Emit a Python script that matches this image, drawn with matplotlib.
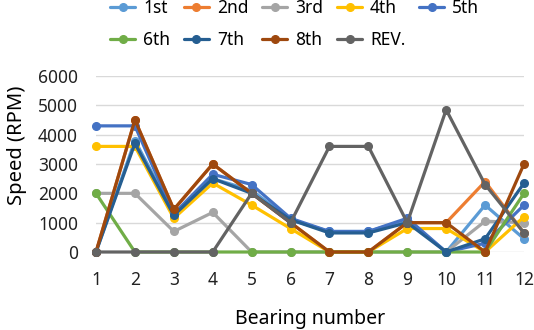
import numpy as np
import matplotlib
matplotlib.use("Agg")
import matplotlib.pyplot as plt

plt.rcParams['font.family'] = ['Noto Sans', 'DejaVu Sans']

bearings = list(range(1, 13))
labels = ["1st", "2nd", "3rd", "4th", "5th", "6th", "7th", "8th", "REV."]
colors = ["#5B9BD5", "#ED7D31", "#A5A5A5", "#FFC000", "#4472C4",
          "#70AD47", "#255E91", "#9E480E", "#636363"]

s1 = [0, 3800, 1300, 2500, 2100, 1100, 700, 700, 1100, 0, 1600, 450]
s2 = [0, 4500, 1450, 3000, 2000, 1000, 0, 0, 1000, 1000, 2400, 650]
s3 = [2000, 2000, 700, 1350, 0, 0, 0, 0, 0, 0, 1050, 1000]
s4 = [3600, 3600, 1150, 2350, 1600, 800, 0, 0, 800, 800, 0, 1200]
s5 = [4300, 4300, 1300, 2650, 2300, 1150, 700, 700, 1150, 0, 300, 1600]
s6 = [2000, 0, 0, 0, 0, 0, 0, 0, 0, 0, 0, 2000]
s7 = [0, 3700, 1250, 2500, 2000, 1100, 650, 650, 1000, 0, 450, 2350]
s8 = [0, 4500, 1450, 3000, 2000, 1000, 0, 0, 1000, 1000, 0, 3000]
rev = [0, 0, 0, 0, 2000, 1000, 3600, 3600, 1000, 4850, 2300, 650]
series = [s1, s2, s3, s4, s5, s6, s7, s8, rev]

fig = plt.figure(figsize=(5.34, 3.3), dpi=100)
ax = fig.add_axes([96/534, 1-252/330, 428/534, 176/330])

handles = []
for vals, lab, c in zip(series, labels, colors):
    h, = ax.plot(bearings, vals, color=c, lw=2.3, marker='o', ms=5.5,
                 label=lab, clip_on=False, solid_capstyle='round')
    handles.append(h)

ax.set_xlim(1, 12)
ax.set_ylim(0, 6000)
ax.set_yticks(np.arange(0, 6001, 1000))
ax.set_xticks(bearings)
ax.grid(axis='y', color='#D9D9D9', lw=1)
ax.set_axisbelow(True)
for sp in ax.spines.values():
    sp.set_visible(False)
ax.tick_params(length=0, labelsize=12.5, colors='#222222')
ax.tick_params(axis='x', pad=14)
ax.tick_params(axis='y', pad=13)
ax.set_xlabel("Bearing number", fontsize=14, va='center')
ax.set_ylabel("Speed (RPM)", fontsize=14.5, va='center')
ax.xaxis.set_label_coords(0.5 + (310 - 310) / 428, -0.38)
ax.yaxis.set_label_coords((17 - 96) / 428, 0.5 + (252 - 145 - 88) / 176)

# legend filled row by row: 5 on top, 4 below
order = [0, 5, 1, 6, 2, 7, 3, 8, 4]
fig.legend([handles[i] for i in order], [labels[i] for i in order],
           loc='upper left', bbox_to_anchor=(103/534, 1.025), ncol=5,
           frameon=False, fontsize=12.5, handlelength=1.45, handletextpad=0.45,
           columnspacing=0.8, labelspacing=0.85, borderaxespad=0)

fig.savefig("out.png", dpi=100)
